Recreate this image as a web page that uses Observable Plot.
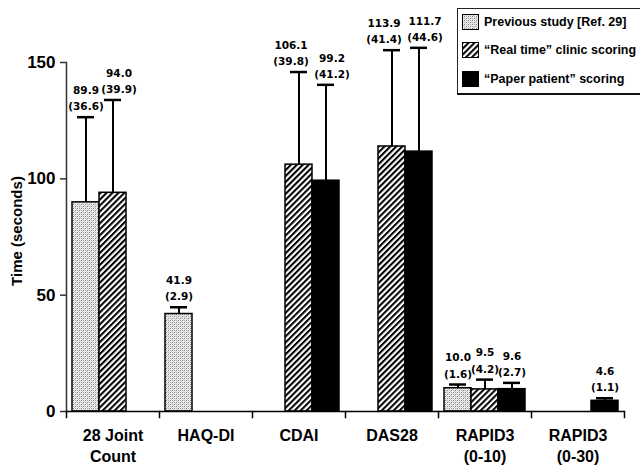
<!DOCTYPE html>
<html>
<head>
<meta charset="utf-8">
<script src="https://cdn.jsdelivr.net/npm/d3@7"></script>
<script src="https://cdn.jsdelivr.net/npm/@observablehq/plot@0.6"></script>
<style>
  html, body { margin: 0; padding: 0; background: #fff; }
  #wrap { position: relative; width: 640px; height: 467px; overflow: hidden; }
  #legend { position: absolute; left: 457px; top: 8px; width: 190px; height: 84px;
    border: 1px solid #222; border-bottom: 2px solid #111; background: #fff;
    font-family: "Liberation Sans", Arial, sans-serif; font-weight: bold; font-size: 12.5px; color: #000; }
  .row { position: absolute; left: 4px; height: 17px; display: flex; align-items: center; white-space: nowrap; }
  .row svg { margin-right: 5px; }
  #ylabel { position: absolute; left: 16px; top: 231px; transform: translate(-50%, -50%) rotate(-90deg);
    font-family: "Liberation Sans", Arial, sans-serif; font-weight: bold; font-size: 15px; white-space: nowrap; }
</style>
</head>
<body>
<div id="wrap">
  <div id="chart"></div>
  <div id="ylabel">Time (seconds)</div>
  <div id="legend"></div>
</div>
<script>
const categories = ["28 Joint Count", "HAQ-DI", "CDAI", "DAS28", "RAPID3 (0-10)", "RAPID3 (0-30)"];
const categoryLabels = ["28 Joint\nCount", "HAQ-DI", "CDAI", "DAS28", "RAPID3\n(0-10)", "RAPID3\n(0-30)"];
const seriesNames = ["Previous study [Ref. 29]", "\u201CReal time\u201D clinic scoring", "\u201CPaper patient\u201D scoring"];
const previousMean = [89.9, 41.9, null, null, 10.0, null];
const previousSD   = [36.6, 2.9, null, null, 1.6, null];
const realTimeMean = [94.0, null, 106.1, 113.9, 9.5, null];
const realTimeSD   = [39.9, null, 39.8, 41.4, 4.2, null];
const paperMean    = [null, null, 99.2, 111.7, 9.6, 4.6];
const paperSD      = [null, null, 41.2, 44.6, 2.7, 1.1];
const yTicks = [0, 50, 100, 150];

const fills = ["url(#stipple)", "url(#hatch)", "#000"];
const means = [previousMean, realTimeMean, paperMean];
const sds = [previousSD, realTimeSD, paperSD];

const data = [];
categories.forEach((c, i) => {
  seriesNames.forEach((s, j) => {
    const m = means[j][i], sd = sds[j][i];
    if (m != null) data.push({cat: c, series: s, mean: m, sd: sd, top: m + sd,
      label: `${m.toFixed(1)}\n(${sd.toFixed(1)})`, k: j});
  });
});
const catLabel = Object.fromEntries(categories.map((c, i) => [c, categoryLabels[i]]));

// labels of neighbouring bars at similar heights are spread apart, as in the original
const pairCats = ["CDAI", "DAS28"];
const isPairLeft = d => d.k === 1 && pairCats.includes(d.cat);
const isPairRight = d => (d.k === 2 && pairCats.includes(d.cat)) || (d.k === 1 && d.cat === "28 Joint Count");
const isOther = d => !isPairLeft(d) && !isPairRight(d);

const valueFont = "DejaVu Sans, sans-serif";
const labelStyle = {fx: "cat", x: "series", y: "top", text: "label", lineAnchor: "bottom",
  dy: -7, fontSize: 10.5, fontWeight: "bold", fontFamily: valueFont, lineHeight: 1.55};

const chart = Plot.plot({
  width: 640, height: 467,
  marginLeft: 65, marginRight: 15, marginTop: 62, marginBottom: 56,
  style: {fontFamily: "'Liberation Sans', Arial, sans-serif", background: "white", color: "black"},
  fx: {domain: categories, padding: 0, label: null, axis: null},
  x: {domain: seriesNames, paddingInner: 0, paddingOuter: 0.167, axis: null},
  y: {domain: [0, 150], axis: null},
  marks: [
    Plot.axisY({ticks: yTicks, tickSize: 6, tickPadding: 5, fontSize: 17, fontWeight: "bold",
      label: null, strokeWidth: 1.5, stroke: "#333"}),
    Plot.axisFx({anchor: "bottom", tickSize: 0, tickPadding: 14, fontSize: 16, fontWeight: "bold", label: null,
      tickFormat: d => catLabel[d], lineHeight: 1.35}),
    Plot.frame({anchor: "left", facetAnchor: "left", strokeWidth: 1.5, stroke: "#333"}),
    Plot.frame({anchor: "left", insetTop: 349, insetBottom: -6, strokeWidth: 1.5}),
    Plot.frame({anchor: "right", facetAnchor: "right", insetTop: 349, insetBottom: -6, strokeWidth: 1.5}),
    Plot.ruleX(data, {fx: "cat", x: "series", y1: "mean", y2: "top", strokeWidth: 2}),
    ...[0, 1, 2].map(j => Plot.barY(data.filter(d => d.k === j),
      {fx: "cat", x: "series", y: "mean", fill: fills[j], stroke: "#000", strokeWidth: 1.5})),
    Plot.ruleY([0], {strokeWidth: 1.5}),
    Plot.tickY(data, {fx: "cat", x: "series", y: "top", insetLeft: 5, insetRight: 5, strokeWidth: 2.5}),
    Plot.text(data.filter(isOther), labelStyle),
    Plot.text(data.filter(isPairLeft), {...labelStyle, dx: -8}),
    Plot.text(data.filter(isPairRight), {...labelStyle, dx: 6})
  ]
});

const defs = `<defs>
  <pattern id="stipple" patternUnits="userSpaceOnUse" width="4" height="4">
    <rect width="4" height="4" fill="#ececec"/>
    <rect x="0" y="0" width="1" height="1" fill="#808080"/>
    <rect x="2" y="2" width="1" height="1" fill="#808080"/>
    <rect x="2" y="0" width="1" height="1" fill="#b0b0b0"/>
    <rect x="0" y="2" width="1" height="1" fill="#b0b0b0"/>
    <rect x="1" y="3" width="1" height="1" fill="#c8c8c8"/>
    <rect x="3" y="1" width="1" height="1" fill="#c8c8c8"/>
  </pattern>
  <pattern id="hatch" patternUnits="userSpaceOnUse" width="4.2" height="4.2" patternTransform="rotate(45)">
    <rect width="4.2" height="4.2" fill="#fff"/>
    <line x1="1" y1="0" x2="1" y2="4.2" stroke="#000" stroke-width="2.1"/>
  </pattern>
</defs>`;
chart.insertAdjacentHTML("afterbegin", defs);
document.getElementById("chart").appendChild(chart);

const legend = document.getElementById("legend");
const rowTops = [4, 32, 61];
seriesNames.forEach((s, j) => {
  const row = document.createElement("div");
  row.className = "row";
  row.style.top = rowTops[j] + "px";
  row.innerHTML = `<svg width="17" height="16"><rect x="0.5" y="0.5" width="16" height="15" fill="${fills[j]}" stroke="#000" stroke-width="1"/></svg><span>${s}</span>`;
  legend.appendChild(row);
});
</script>
</body>
</html>
